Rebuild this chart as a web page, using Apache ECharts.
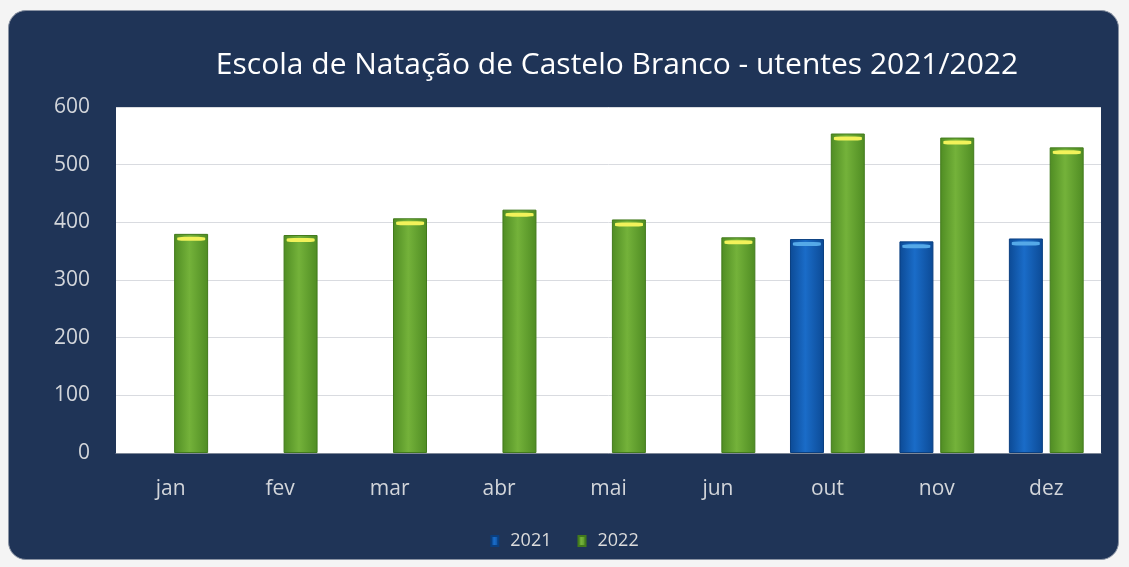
<!DOCTYPE html>
<html>
<head>
<meta charset="utf-8">
<script src="https://cdn.jsdelivr.net/npm/echarts@6/dist/echarts.min.js"></script>
<style>
  html, body { margin: 0; padding: 0; background: #f4f4f4; }
  #panel {
    position: absolute; left: 8px; top: 10px; width: 1111px; height: 550px;
    background: #1f3457; border-radius: 18px; border: 1px solid #8a93a3; box-sizing: border-box;
  }
  #main { position: absolute; left: 0; top: 0; width: 1129px; height: 567px; }
</style>
</head>
<body>
<div id="panel"></div>
<div id="main"></div>
<script>
const months = ['jan', 'fev', 'mar', 'abr', 'mai', 'jun', 'out', 'nov', 'dez'];
const users2021 = [null, null, null, null, null, null, 371, 367, 372];
const users2022 = [380, 378, 407, 422, 405, 374, 554, 547, 530];
const yTicks = [0, 100, 200, 300, 400, 500, 600];

const myChart = echarts.init(document.getElementById('main'));

function cyl(dark, light) {
  return new echarts.graphic.LinearGradient(0, 0, 1, 0, [
    { offset: 0, color: dark },
    { offset: 0.45, color: light },
    { offset: 1, color: dark },
  ]);
}

const barW = 34;
const half = 20.5; // half of bar + gap, to put the caps on their bars

const option = {
  animation: false,
  backgroundColor: 'transparent',
  title: {
    text: 'Escola de Natação de Castelo Branco - utentes 2021/2022',
    left: 612,
    textAlign: 'center',
    top: 45,
    textStyle: {
      color: '#ffffff',
      fontFamily: 'Open Sans',
      fontWeight: 'normal',
      fontSize: 30,
    },
  },
  legend: {
    data: ['2021', '2022'],
    left: 'center',
    top: 527,
    icon: 'rect',
    itemWidth: 7,
    itemHeight: 10,
    itemGap: 26,
    textStyle: { color: '#dcdcdc', fontFamily: 'Open Sans', fontSize: 18, padding: [0, 0, 0, 7] },
  },
  grid: {
    left: 116,
    right: 28,
    top: 107,
    bottom: 114,
    show: true,
    backgroundColor: '#ffffff',
    borderWidth: 0,
  },
  xAxis: {
    type: 'category',
    data: months,
    axisTick: { show: false },
    axisLine: { lineStyle: { color: '#7d8797', width: 1 } },
    axisLabel: {
      color: '#d2d5da',
      fontFamily: 'Open Sans',
      fontSize: 21,
      margin: 26,
    },
  },
  yAxis: {
    type: 'value',
    min: yTicks[0],
    max: yTicks[yTicks.length - 1],
    interval: 100,
    axisLine: { show: false },
    axisTick: { show: false },
    axisLabel: {
      color: '#d2d5da',
      fontFamily: 'Open Sans',
      fontSize: 21,
      margin: 26,
    },
    splitLine: { lineStyle: { color: '#d9dbe0', width: 1 } },
  },
  series: [
    {
      name: '2021',
      type: 'bar',
      data: users2021,
      barWidth: barW,
      barGap: '20%',
      itemStyle: { color: cyl('#0c4a95', '#1a6cc8'), borderColor: '#0a3f80', borderWidth: 1 },
    },
    {
      name: '2022',
      type: 'bar',
      data: users2022,
      barWidth: barW,
      barGap: '20%',
      itemStyle: { color: cyl('#4f8c23', '#74b23a'), borderColor: '#427a1c', borderWidth: 1 },
    },
    {
      name: 'cap2021',
      type: 'pictorialBar',
      data: users2021,
      symbol: 'roundRect',
      symbolSize: [28, 4],
      symbolPosition: 'end',
      symbolOffset: [-half, 3],
      itemStyle: { color: '#55a9e8' },
      z: 5,
    },
    {
      name: 'cap2022',
      type: 'pictorialBar',
      data: users2022,
      symbol: 'roundRect',
      symbolSize: [28, 4],
      symbolPosition: 'end',
      symbolOffset: [half, 3],
      itemStyle: { color: '#f2f25a' },
      z: 5,
    },
  ],
};

myChart.setOption(option);
</script>
</body>
</html>
